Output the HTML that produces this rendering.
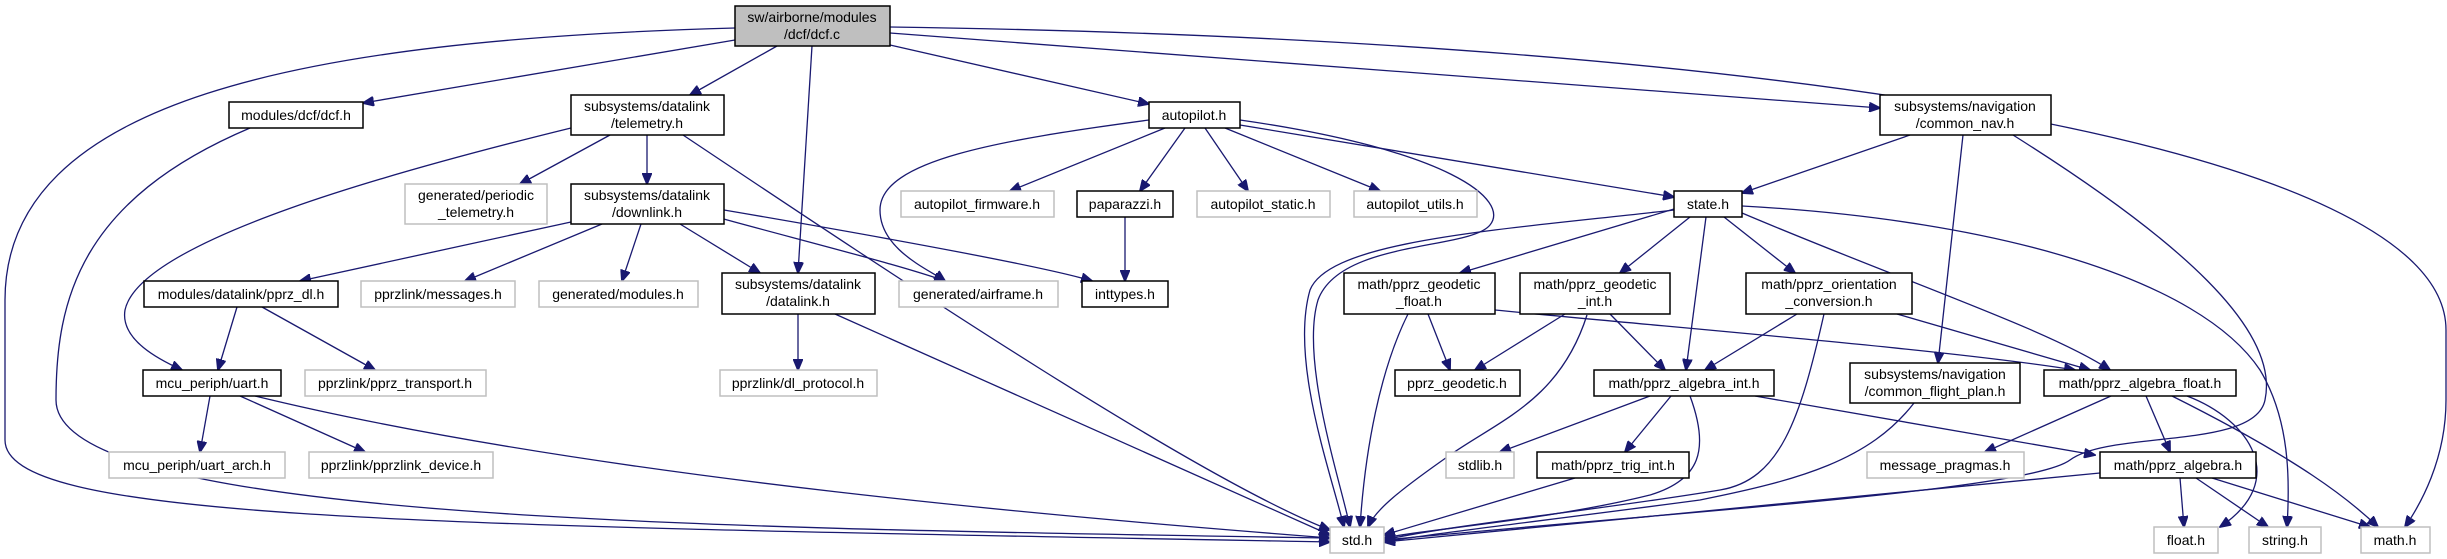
<!DOCTYPE html>
<html><head><meta charset="utf-8"><style>
html,body{margin:0;padding:0;background:#fff;}
svg{display:block;}
text{font-family:"Liberation Sans",sans-serif;font-size:14px;fill:#000;text-anchor:middle;}
.b{fill:#fff;stroke:#000;stroke-width:1.5;}
.g{fill:#fff;stroke:#bfbfbf;stroke-width:1.5;}
.r{fill:#bfbfbf;stroke:#000;stroke-width:1.5;}
path{fill:none;stroke:#191970;stroke-width:1.3;marker-end:url(#a);}
</style></head><body>
<svg width="2447" height="559" viewBox="0 0 2447 559" xmlns="http://www.w3.org/2000/svg">
<defs><marker id="a" markerUnits="userSpaceOnUse" markerWidth="12" markerHeight="10" refX="11" refY="5" orient="auto"><polygon points="0,0 12,5 0,10" fill="#191970" stroke="#191970"/></marker></defs>
<!-- edges -->
<path d="M735,28 C300,40 5,100 5,300 L5,440 C5,520 400,525 1330,542"/>
<path d="M250,128 C80,200 56,300 56,400 C56,520 700,528 1330,538"/>
<path d="M735,40 L363,103"/>
<path d="M777,46 L690,95"/>
<path d="M812,46 L798,273"/>
<path d="M890,45 L1149,104"/>
<path d="M890,33 L1880,108"/>
<path d="M890,27 C1800,40 2446,150 2446,330 L2446,400 C2446,460 2420,505 2405,527"/>
<path d="M571,128 C400,170 140,240 125,310 C120,340 160,360 182,370"/>
<path d="M610,135 L520,184"/>
<path d="M647,135 L647,184"/>
<path d="M683,135 C900,280 1200,480 1330,530"/>
<path d="M571,222 L300,281"/>
<path d="M602,224 L465,281"/>
<path d="M641,224 L622,281"/>
<path d="M680,224 L760,273"/>
<path d="M720,218 C800,240 900,265 945,281"/>
<path d="M724,210 C900,240 1050,268 1092,281"/>
<path d="M1149,120 C1000,140 880,160 880,210 C880,250 930,270 945,281"/>
<path d="M1165,128 L1010,191"/>
<path d="M1185,128 L1140,191"/>
<path d="M1205,128 L1248,191"/>
<path d="M1225,128 L1380,191"/>
<path d="M1240,120 C1450,150 1510,200 1490,225 C1470,250 1340,240 1318,300 C1300,360 1340,480 1350,527"/>
<path d="M1674,210 C1500,230 1330,240 1310,290 C1290,360 1330,470 1344,527"/>
<path d="M1240,125 L1674,197"/>
<path d="M1125,217 L1125,281"/>
<path d="M798,314 L798,370"/>
<path d="M835,314 L1330,535"/>
<path d="M237,307 L218,370"/>
<path d="M262,307 L375,370"/>
<path d="M210,396 L200,452"/>
<path d="M240,396 L365,452"/>
<path d="M255,396 C600,480 1100,520 1330,538"/>
<path d="M1910,135 L1742,193"/>
<path d="M1963,135 L1938,363"/>
<path d="M2013,135 C2180,240 2280,330 2265,400 C2255,450 2110,430 2070,460 C2030,490 1700,510 1384,540"/>
<path d="M1674,209 L1460,273"/>
<path d="M1690,217 L1620,273"/>
<path d="M1706,217 L1686,370"/>
<path d="M1724,217 L1795,273"/>
<path d="M1742,213 C1900,280 2050,330 2110,370"/>
<path d="M1742,206 C2000,220 2200,280 2260,370 C2290,420 2290,480 2287,527"/>
<path d="M1428,314 L1450,370"/>
<path d="M1408,314 C1380,370 1365,450 1360,527"/>
<path d="M1495,310 C1700,330 1950,350 2075,370"/>
<path d="M1565,314 L1475,370"/>
<path d="M1610,314 L1665,370"/>
<path d="M1587,315 C1560,400 1500,420 1450,455 C1400,490 1375,510 1368,527"/>
<path d="M1797,314 L1705,370"/>
<path d="M1897,314 L2090,370"/>
<path d="M1824,314 C1800,420 1780,480 1720,490 C1600,510 1450,525 1384,540"/>
<path d="M1650,396 L1500,452"/>
<path d="M1671,396 L1625,452"/>
<path d="M1690,396 C1710,450 1700,480 1650,495 C1550,520 1420,530 1384,538"/>
<path d="M1755,396 L2095,455"/>
<path d="M1575,478 L1384,535"/>
<path d="M1914,403 C1870,460 1800,480 1700,500 C1550,520 1420,535 1384,542"/>
<path d="M2111,396 L1985,452"/>
<path d="M2146,396 L2170,452"/>
<path d="M2187,396 C2250,420 2290,480 2220,527"/>
<path d="M2172,396 C2300,460 2350,500 2378,527"/>
<path d="M2100,473 L1384,542"/>
<path d="M2180,478 L2184,527"/>
<path d="M2196,478 L2268,527"/>
<path d="M2212,478 L2370,527"/>
<!-- nodes -->
<rect class="r" x="735" y="6" width="155" height="40"/><text x="812" y="22">sw/airborne/modules</text><text x="812" y="39">/dcf/dcf.c</text>
<rect class="b" x="229" y="102" width="134" height="26"/><text x="296" y="120">modules/dcf/dcf.h</text>
<rect class="b" x="571" y="95" width="153" height="40"/><text x="647" y="111">subsystems/datalink</text><text x="647" y="128">/telemetry.h</text>
<rect class="g" x="405" y="184" width="142" height="40"/><text x="476" y="200">generated/periodic</text><text x="476" y="217">_telemetry.h</text>
<rect class="b" x="571" y="184" width="153" height="40"/><text x="647" y="200">subsystems/datalink</text><text x="647" y="217">/downlink.h</text>
<rect class="b" x="722" y="273" width="153" height="41"/><text x="798" y="289">subsystems/datalink</text><text x="798" y="306">/datalink.h</text>
<rect class="b" x="144" y="281" width="194" height="26"/><text x="241" y="299">modules/datalink/pprz_dl.h</text>
<rect class="g" x="361" y="281" width="154" height="26"/><text x="438" y="299">pprzlink/messages.h</text>
<rect class="g" x="539" y="281" width="159" height="26"/><text x="618" y="299">generated/modules.h</text>
<rect class="b" x="143" y="370" width="138" height="26"/><text x="212" y="388">mcu_periph/uart.h</text>
<rect class="g" x="305" y="370" width="181" height="26"/><text x="395" y="388">pprzlink/pprz_transport.h</text>
<rect class="g" x="720" y="370" width="157" height="26"/><text x="798" y="388">pprzlink/dl_protocol.h</text>
<rect class="g" x="109" y="452" width="176" height="26"/><text x="197" y="470">mcu_periph/uart_arch.h</text>
<rect class="g" x="309" y="452" width="184" height="26"/><text x="401" y="470">pprzlink/pprzlink_device.h</text>
<rect class="b" x="1149" y="102" width="91" height="26"/><text x="1194" y="120">autopilot.h</text>
<rect class="g" x="901" y="191" width="153" height="26"/><text x="977" y="209">autopilot_firmware.h</text>
<rect class="b" x="1077" y="191" width="96" height="26"/><text x="1125" y="209">paparazzi.h</text>
<rect class="g" x="1197" y="191" width="133" height="26"/><text x="1263" y="209">autopilot_static.h</text>
<rect class="g" x="1354" y="191" width="123" height="26"/><text x="1415" y="209">autopilot_utils.h</text>
<rect class="g" x="899" y="281" width="159" height="26"/><text x="978" y="299">generated/airframe.h</text>
<rect class="b" x="1082" y="281" width="86" height="26"/><text x="1125" y="299">inttypes.h</text>
<rect class="b" x="1344" y="273" width="151" height="41"/><text x="1419" y="289">math/pprz_geodetic</text><text x="1419" y="306">_float.h</text>
<rect class="b" x="1520" y="273" width="150" height="41"/><text x="1595" y="289">math/pprz_geodetic</text><text x="1595" y="306">_int.h</text>
<rect class="b" x="1395" y="370" width="125" height="26"/><text x="1457" y="388">pprz_geodetic.h</text>
<rect class="g" x="1446" y="452" width="68" height="26"/><text x="1480" y="470">stdlib.h</text>
<rect class="b" x="1537" y="452" width="152" height="26"/><text x="1613" y="470">math/pprz_trig_int.h</text>
<rect class="g" x="1330" y="527" width="54" height="26"/><text x="1357" y="545">std.h</text>
<rect class="b" x="1594" y="370" width="180" height="26"/><text x="1684" y="388">math/pprz_algebra_int.h</text>
<rect class="b" x="1880" y="95" width="171" height="40"/><text x="1965" y="111">subsystems/navigation</text><text x="1965" y="128">/common_nav.h</text>
<rect class="b" x="1674" y="191" width="68" height="26"/><text x="1708" y="209">state.h</text>
<rect class="b" x="1746" y="273" width="166" height="41"/><text x="1829" y="289">math/pprz_orientation</text><text x="1829" y="306">_conversion.h</text>
<rect class="b" x="1850" y="363" width="170" height="40"/><text x="1935" y="379">subsystems/navigation</text><text x="1935" y="396">/common_flight_plan.h</text>
<rect class="b" x="2044" y="370" width="192" height="26"/><text x="2140" y="388">math/pprz_algebra_float.h</text>
<rect class="g" x="1867" y="452" width="157" height="26"/><text x="1945" y="470">message_pragmas.h</text>
<rect class="b" x="2100" y="452" width="156" height="26"/><text x="2178" y="470">math/pprz_algebra.h</text>
<rect class="g" x="2154" y="527" width="64" height="26"/><text x="2186" y="545">float.h</text>
<rect class="g" x="2249" y="527" width="72" height="26"/><text x="2285" y="545">string.h</text>
<rect class="g" x="2361" y="527" width="69" height="26"/><text x="2395" y="545">math.h</text>
</svg>
</body></html>
